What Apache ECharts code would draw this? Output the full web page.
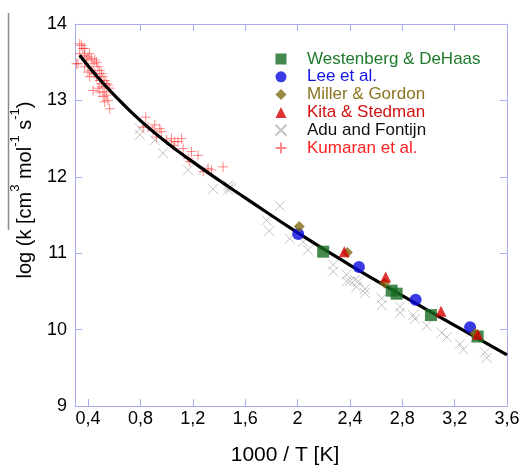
<!DOCTYPE html>
<html><head><meta charset="utf-8">
<script src="https://cdn.jsdelivr.net/npm/echarts@6/dist/echarts.min.js"></script>
<style>html,body{margin:0;padding:0;background:#fff}#c{width:524px;height:465px}</style>
</head><body><div id="c"></div>
<script>
const xTicks = [0.4, 0.8, 1.2, 1.6, 2.0, 2.4, 2.8, 3.2, 3.6];
const yTicks = [9, 10, 11, 12, 13, 14];

const fitX = [0.336, 0.45, 0.6, 0.8, 1.0, 1.2, 1.4, 1.6, 2.0, 2.4, 2.8, 3.2, 3.6];
const fitY = [13.59, 13.35, 13.07, 12.735, 12.45, 12.195, 11.955, 11.725, 11.27, 10.845, 10.445, 10.055, 9.67];

const westenberg = [[2.196, 11.02], [2.719, 10.51], [2.757, 10.47], [3.019, 10.19], [3.376, 9.91]];
const lee = [[2.005, 11.25], [2.469, 10.82], [2.902, 10.39], [3.318, 10.03]];
const miller = [[2.013, 11.35], [2.38, 11.01], [2.665, 10.61], [3.356, 9.95]];
const kita = [[2.357, 11.02], [2.673, 10.69], [3.096, 10.24], [3.376, 9.94]];
const adu = [
  [0.795, 12.63], [0.795, 12.55], [0.909, 12.48], [0.973, 12.31], [1.164, 12.09], [1.279, 12.09],
  [1.355, 11.84], [1.483, 11.87], [1.47, 11.83], [1.47, 11.89], [1.496, 11.85], [1.865, 11.62],
  [1.763, 11.43], [1.783, 11.29], [1.941, 11.19], [2.08, 11.04], [2.043, 11.15], [2.272, 10.85],
  [2.272, 10.76], [2.375, 10.72], [2.375, 10.63], [2.438, 10.65], [2.45, 10.56], [2.515, 10.53],
  [2.515, 10.48], [2.40, 10.63], [2.464, 10.63], [2.643, 10.41], [2.643, 10.32], [2.783, 10.30],
  [2.783, 10.22], [2.884, 10.19], [2.897, 10.14], [2.986, 10.05], [3.101, 9.96], [3.14, 9.90],
  [3.241, 9.81], [3.266, 9.74], [3.432, 9.70], [3.445, 9.63], [3.325, 9.97], [3.356, 9.89]
];
const kumaran = [
  [0.349, 13.72], [0.361, 13.68], [0.336, 13.61], [0.311, 13.48], [0.374, 13.59], [0.399, 13.57],
  [0.412, 13.61], [0.425, 13.55], [0.451, 13.53], [0.438, 13.48], [0.464, 13.50], [0.476, 13.44],
  [0.489, 13.39], [0.451, 13.35], [0.502, 13.35], [0.514, 13.31], [0.527, 13.26], [0.54, 13.22],
  [0.552, 13.20], [0.514, 13.18], [0.476, 13.16], [0.438, 13.13], [0.565, 13.16], [0.527, 13.11],
  [0.514, 13.05], [0.527, 12.98], [0.552, 13.00], [0.565, 12.89], [0.399, 13.37], [0.412, 13.31],
  [0.387, 13.53], [0.323, 13.48], [0.374, 13.44], [0.425, 13.39], [0.489, 13.26], [0.502, 13.22],
  [0.464, 13.31], [0.54, 13.07], [0.489, 13.11], [0.336, 13.74], [0.374, 13.68],
  [0.84, 12.78], [0.82, 12.65], [0.858, 12.65], [0.909, 12.68], [0.896, 12.61], [0.948, 12.63],
  [0.96, 12.59], [0.922, 12.52], [0.999, 12.48], [1.037, 12.50], [1.062, 12.46], [1.049, 12.41],
  [1.087, 12.46], [1.113, 12.50], [1.126, 12.37], [1.164, 12.24], [1.24, 12.28], [1.177, 12.20],
  [1.279, 12.07], [1.343, 12.09], [1.431, 12.13], [1.317, 12.11], [1.19, 12.33]
];

const names = ['Westenberg & DeHaas', 'Lee et al.', 'Miller & Gordon', 'Kita & Stedman', 'Adu and Fontijn', 'Kumaran et al.'];
const nameColors = ['#1e7a2c', '#1414e6', '#8a7320', '#d41010', '#111111', '#ff2020'];

const axisColor = '#a9acf0';
const xPath = 'path://M0,0L10,10M10,0L0,10';
const plusPath = 'path://M5,0L5,10M0,5L10,5';

const chart = echarts.init(document.getElementById('c'));
const fmt = v => String(+(+v).toFixed(1)).replace('.', ',');
chart.setOption({
  animation: false,
  grid: {left: 75, right: 17, top: 24, bottom: 59},
  legend: {
    orient: 'vertical', left: 269.5, top: 45.5, itemWidth: 11, itemHeight: 11, itemGap: 0.8,
    data: names.map((n, i) => ({name: n, textStyle: {color: nameColors[i]}})),
    textStyle: {fontFamily: 'Liberation Sans, Arial', fontSize: 17, lineHeight: 16, padding: [0, 0, 0, 15.5]}
  },
  xAxis: [{
    type: 'value', min: 0.3, max: 3.6,
    axisLine: {show: true, lineStyle: {color: axisColor, width: 1}},
    axisTick: {show: true, inside: true, length: 7, lineStyle: {color: axisColor}, customValues: xTicks},
    axisLabel: {customValues: xTicks, formatter: fmt, color: '#000', fontSize: 18, fontFamily: 'Liberation Sans, Arial', margin: 4},
    splitLine: {show: false}
  }, {
    type: 'value', min: 0.3, max: 3.6, position: 'top',
    axisLine: {show: true, lineStyle: {color: axisColor, width: 1}},
    axisTick: {show: true, inside: true, length: 7, lineStyle: {color: axisColor}, customValues: xTicks.slice(1, 8)},
    axisLabel: {show: false}, splitLine: {show: false}
  }],
  yAxis: [{
    type: 'value', min: 9, max: 14, interval: 1,
    axisLine: {show: true, lineStyle: {color: axisColor, width: 1}},
    axisTick: {show: true, inside: true, length: 7, lineStyle: {color: axisColor}},
    axisLabel: {color: '#000', fontSize: 18, fontFamily: 'Liberation Sans, Arial', margin: 8, formatter: v => String(v)},
    splitLine: {show: false}
  }, {
    type: 'value', min: 9, max: 14, interval: 1, position: 'right',
    axisLine: {show: true, lineStyle: {color: axisColor, width: 1}},
    axisTick: {show: true, inside: true, length: 7, lineStyle: {color: axisColor}},
    axisLabel: {show: false}, splitLine: {show: false}
  }],
  graphic: [
    {type: 'line', shape: {x1: 8.5, y1: 13, x2: 8.5, y2: 230}, style: {stroke: '#8a8a8a', lineWidth: 1.5}, silent: true},
    {type: 'text', x: 285, y: 455, style: {text: '1000 / T [K]', font: '21px "Liberation Sans", Arial', fill: '#000', textAlign: 'center', textVerticalAlign: 'middle'}},
    {type: 'text', x: 22, y: 190, rotation: Math.PI / 2,
      style: {
        text: '{a|log (k [cm}{s|3}{a| mol}{s|-1}{a| s}{s|-1}{a|)}',
        textAlign: 'center', textVerticalAlign: 'middle', fill: '#000',
        rich: {
          a: {fontSize: 20, fontFamily: 'Liberation Sans', lineHeight: 26, verticalAlign: 'bottom', fill: '#000'},
          s: {fontSize: 13, fontFamily: 'Liberation Sans', lineHeight: 26, verticalAlign: 'top', fill: '#000'}
        }
      }}
  ],
  series: [
    {name: 'fit', type: 'line', data: fitX.map((x, i) => [x, fitY[i]]), smooth: 0.5, symbol: 'none',
      lineStyle: {color: '#000', width: 3.2}, z: 3},
    {name: names[4], type: 'scatter', data: adu, symbol: xPath, symbolSize: 10,
      itemStyle: {color: 'rgba(0,0,0,0)', borderColor: 'rgba(120,120,120,0.55)', borderWidth: 1}, z: 2},
    {name: names[5], type: 'scatter', data: kumaran, symbol: plusPath, symbolSize: 10,
      itemStyle: {color: 'rgba(0,0,0,0)', borderColor: 'rgba(255,30,30,0.65)', borderWidth: 1}, z: 2},
    {name: names[0], type: 'scatter', data: westenberg, symbol: 'rect', symbolSize: 12, itemStyle: {color: '#176b22'}, z: 5},
    {name: names[1], type: 'scatter', data: lee, symbol: 'circle', symbolSize: 12, itemStyle: {color: '#0a0ae0'}, z: 5},
    {name: names[2], type: 'scatter', data: miller, symbol: 'diamond', symbolSize: 11, itemStyle: {color: '#7f6b12'}, z: 5},
    {name: names[3], type: 'scatter', data: kita, symbol: 'triangle', symbolSize: 11, itemStyle: {color: '#d40000'}, z: 5}
  ]
});
</script></body></html>
